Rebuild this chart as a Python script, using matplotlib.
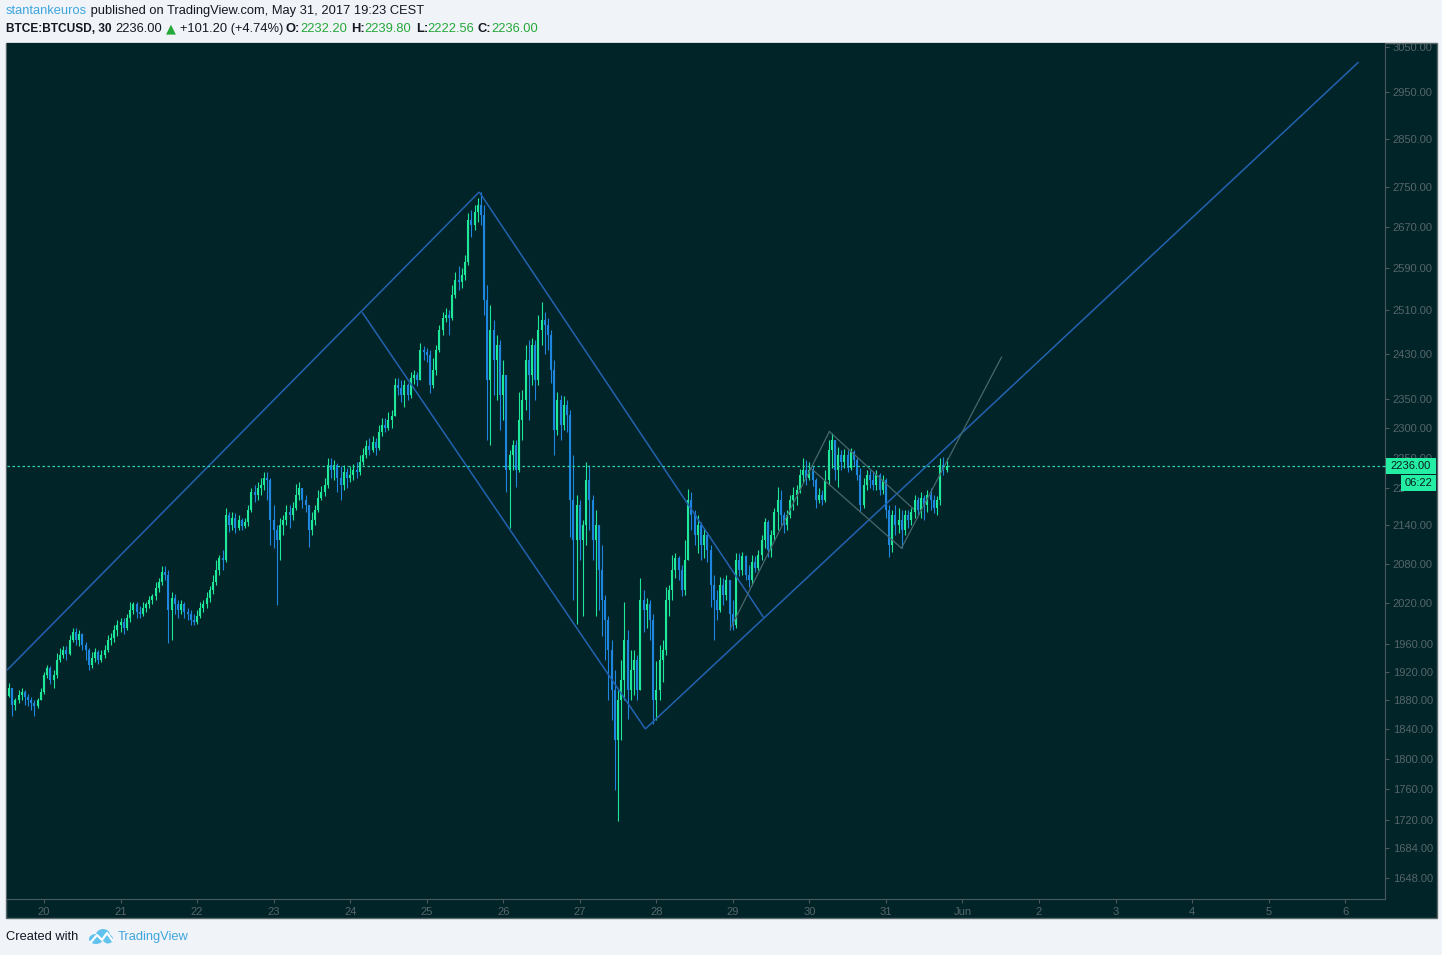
import numpy as np
import pandas as pd
import matplotlib
matplotlib.use("Agg")
import matplotlib.pyplot as plt
import matplotlib.dates as mdates
from matplotlib.patches import Rectangle, Ellipse
from matplotlib.lines import Line2D
from matplotlib.ticker import FixedLocator, FuncFormatter, NullLocator

# hourly BTCUSD bars (May 19 13:00 -> May 31 19:00)
first_open = 1885
close = [1897, 1873, 1880, 1887, 1891, 1884, 1880, 1876, 1872, 1880,
         1891, 1915, 1925, 1908, 1915, 1937, 1944, 1951, 1945, 1966,
         1977, 1966, 1974, 1958, 1951, 1930, 1940, 1948, 1937, 1943,
         1951, 1966, 1969, 1980, 1988, 1992, 1983, 1998, 2010, 2018,
         2007, 2003, 2013, 2018, 2025, 2031, 2043, 2052, 2067, 2063,
         2010, 2028, 2018, 2010, 2019, 2007, 2003, 1995, 1992, 2001,
         2013, 2018, 2028, 2040, 2052, 2070, 2089, 2086, 2156, 2141,
         2151, 2136, 2148, 2139, 2145, 2164, 2194, 2189, 2200, 2205,
         2216, 2213, 2148, 2133, 2117, 2141, 2148, 2161, 2156, 2167,
         2189, 2200, 2181, 2172, 2133, 2148, 2164, 2184, 2194, 2205,
         2238, 2230, 2238, 2216, 2205, 2226, 2216, 2221, 2230, 2226,
         2243, 2255, 2270, 2263, 2277, 2266, 2294, 2305, 2300, 2314,
         2321, 2374, 2369, 2357, 2374, 2357, 2387, 2392, 2383, 2437,
         2433, 2428, 2374, 2401, 2437, 2473, 2495, 2501, 2495, 2539,
         2567, 2563, 2576, 2601, 2684, 2674, 2700, 2714, 2694, 2529,
         2383, 2473, 2419, 2446, 2357, 2392, 2230, 2255, 2272, 2230,
         2314, 2348, 2419, 2392, 2446, 2383, 2473, 2492, 2483, 2464,
         2401, 2297, 2348, 2305, 2340, 2322, 2181, 2117, 2172, 2117,
         2141, 2213, 2181, 2117, 2141, 2070, 2025, 1995, 1951, 1894,
         1825, 1880, 1908, 1966, 1894, 1922, 1937, 1894, 2025, 2010,
         2018, 1995, 1880, 1894, 1937, 1951, 2025, 2040, 2070, 2089,
         2070, 2040, 2086, 2181, 2156, 2125, 2141, 2109, 2125, 2101,
         2048, 2025, 2010, 2048, 2032, 2055, 2003, 1988, 2086, 2070,
         2092, 2063, 2055, 2083, 2073, 2094, 2117, 2145, 2101, 2125,
         2161, 2181, 2156, 2141, 2156, 2181, 2189, 2197, 2221, 2230,
         2216, 2230, 2213, 2181, 2189, 2181, 2213, 2263, 2280, 2230,
         2255, 2243, 2255, 2233, 2260, 2246, 2221, 2172, 2205, 2221,
         2213, 2205, 2221, 2197, 2213, 2164, 2109, 2156, 2141, 2148,
         2133, 2156, 2148, 2161, 2181, 2164, 2184, 2172, 2189, 2181,
         2167, 2181, 2238, 2230, 2236]
high = [1904, 1897, 1883, 1894, 1897, 1894, 1888, 1884, 1880, 1883,
        1897, 1919, 1930, 1928, 1922, 1947, 1954, 1957, 1957, 1973,
        1983, 1983, 1980, 1976, 1963, 1954, 1948, 1954, 1951, 1951,
        1958, 1973, 1976, 1988, 1995, 1998, 1998, 2003, 2022, 2022,
        2021, 2016, 2021, 2022, 2031, 2034, 2052, 2058, 2076, 2076,
        2070, 2037, 2034, 2025, 2025, 2022, 2013, 2010, 2004, 2010,
        2021, 2025, 2037, 2046, 2063, 2086, 2094, 2101, 2167, 2161,
        2161, 2159, 2156, 2151, 2151, 2172, 2200, 2205, 2210, 2216,
        2226, 2226, 2216, 2172, 2141, 2151, 2156, 2172, 2172, 2177,
        2207, 2210, 2197, 2189, 2172, 2161, 2172, 2197, 2203, 2216,
        2249, 2249, 2246, 2241, 2236, 2238, 2233, 2236, 2240, 2243,
        2255, 2266, 2280, 2283, 2287, 2283, 2305, 2317, 2317, 2327,
        2331, 2387, 2387, 2383, 2383, 2378, 2397, 2401, 2397, 2450,
        2444, 2441, 2437, 2422, 2446, 2483, 2507, 2514, 2510, 2558,
        2582, 2594, 2590, 2615, 2698, 2704, 2714, 2728, 2740, 2714,
        2558, 2520, 2492, 2464, 2455, 2419, 2374, 2263, 2280, 2280,
        2362, 2366, 2446, 2455, 2459, 2455, 2501, 2525, 2507, 2495,
        2473, 2419, 2362, 2357, 2355, 2348, 2331, 2255, 2189, 2181,
        2148, 2243, 2238, 2189, 2164, 2141, 2109, 2032, 2001, 1966,
        1922, 1894, 1937, 2021, 1980, 1951, 1951, 1944, 2058, 2040,
        2027, 2025, 2003, 1935, 1958, 1966, 2044, 2048, 2094, 2097,
        2092, 2078, 2117, 2199, 2194, 2164, 2156, 2145, 2136, 2130,
        2109, 2063, 2040, 2060, 2058, 2063, 2055, 2025, 2097, 2097,
        2098, 2094, 2078, 2094, 2092, 2101, 2125, 2151, 2148, 2133,
        2167, 2202, 2197, 2161, 2164, 2189, 2202, 2205, 2231, 2249,
        2246, 2243, 2236, 2216, 2200, 2197, 2230, 2280, 2292, 2280,
        2268, 2263, 2265, 2263, 2266, 2263, 2249, 2233, 2216, 2230,
        2230, 2226, 2230, 2225, 2221, 2216, 2172, 2164, 2172, 2167,
        2164, 2164, 2164, 2167, 2189, 2186, 2194, 2189, 2197, 2200,
        2189, 2187, 2249, 2251, 2249]
low = [1884, 1858, 1866, 1876, 1880, 1873, 1872, 1866, 1858, 1869,
       1880, 1888, 1911, 1902, 1897, 1911, 1933, 1940, 1937, 1943,
       1963, 1958, 1957, 1951, 1937, 1922, 1925, 1934, 1931, 1934,
       1940, 1948, 1958, 1963, 1971, 1977, 1974, 1980, 1992, 2003,
       1998, 1998, 2001, 2007, 2013, 2019, 2025, 2037, 2048, 2055,
       1961, 1966, 2003, 1998, 2003, 1998, 1995, 1988, 1988, 1989,
       1998, 2007, 2013, 2022, 2034, 2048, 2063, 2070, 2083, 2130,
       2133, 2128, 2133, 2133, 2136, 2139, 2161, 2177, 2181, 2189,
       2197, 2181, 2109, 2104, 2017, 2086, 2125, 2141, 2136, 2148,
       2164, 2181, 2167, 2161, 2106, 2125, 2141, 2161, 2181, 2187,
       2200, 2216, 2213, 2194, 2181, 2197, 2200, 2210, 2213, 2216,
       2221, 2238, 2249, 2255, 2260, 2255, 2263, 2287, 2294, 2297,
       2300, 2322, 2357, 2345, 2336, 2348, 2352, 2376, 2373, 2383,
       2419, 2415, 2360, 2369, 2392, 2433, 2464, 2488, 2464, 2492,
       2533, 2548, 2552, 2567, 2596, 2650, 2664, 2680, 2674, 2501,
       2280, 2272, 2357, 2348, 2297, 2314, 2194, 2136, 2230, 2202,
       2226, 2280, 2331, 2314, 2374, 2348, 2374, 2446, 2430, 2437,
       2378, 2255, 2288, 2280, 2297, 2294, 2122, 2025, 1989, 2086,
       2001, 2109, 2133, 2086, 2001, 2010, 1972, 1937, 1880, 1852,
       1759, 1719, 1825, 1880, 1853, 1880, 1887, 1880, 1894, 1977,
       1983, 1966, 1847, 1852, 1880, 1905, 1944, 2001, 2025, 2058,
       2055, 2031, 2032, 2086, 2133, 2109, 2097, 2086, 2089, 2083,
       2014, 1966, 1995, 2007, 2017, 2025, 1980, 1980, 1983, 2061,
       2063, 2055, 2044, 2048, 2067, 2070, 2086, 2104, 2090, 2090,
       2117, 2133, 2141, 2128, 2133, 2151, 2164, 2172, 2192, 2210,
       2205, 2213, 2203, 2167, 2176, 2172, 2177, 2205, 2233, 2213,
       2202, 2230, 2233, 2226, 2230, 2236, 2213, 2161, 2167, 2197,
       2200, 2197, 2197, 2189, 2190, 2151, 2090, 2098, 2125, 2128,
       2104, 2125, 2136, 2141, 2151, 2156, 2151, 2148, 2161, 2164,
       2159, 2157, 2172, 2221, 2226]

last_price = 2236.00
countdown = "06:22"

# drawings (time, price)
blue_lines = [
    (("2017-05-19 12:23", 1922), ("2017-05-25 16:28", 2740)),
    (("2017-05-24 03:46", 2506), ("2017-05-27 20:33", 1840)),
    (("2017-05-25 16:28", 2740), ("2017-05-29 09:35", 1999)),
    (("2017-05-27 20:33", 1840), ("2017-06-06 04:13", 3017)),
]
grey_lines = [
    (("2017-05-28 23:12", 1982), ("2017-05-30 06:16", 2294)),
    (("2017-05-30 06:16", 2294), ("2017-05-31 08:37", 2166)),
    (("2017-05-30 00:19", 2233), ("2017-05-31 04:52", 2104)),
    (("2017-05-31 04:52", 2104), ("2017-06-01 12:14", 2424)),
]

yticks = [1648, 1684, 1720, 1760, 1800, 1840, 1880, 1920, 1960, 2020, 2080,
          2140, 2200, 2250, 2300, 2350, 2430, 2510, 2590, 2670, 2750, 2850,
          2950, 3050]
xdays = pd.date_range("2017-05-20", "2017-06-06", freq="D")

BG = "#012428"
UP = "#1fe89a"
DN = "#1f86e0"
BLUE = "#2262b0"
GREY = "#47676d"
AXT = "#56666a"
PAGE = "#f0f3f7"

W, H = 1442, 955
fig = plt.figure(figsize=(W / 100, H / 100), dpi=100, facecolor=PAGE)
fig.patches.append(Rectangle((6 / W, 1 - 918 / H), 1431 / W, 875 / H,
                             transform=fig.transFigure, facecolor=BG,
                             edgecolor="#5a676b", lw=1, zorder=-1))

ax = fig.add_axes([7 / W, 1 - 899 / H, 1378 / W, 856 / H])
ax.set_facecolor(BG)

times = pd.date_range("2017-05-19 13:00", periods=len(close), freq="h")
tx = mdates.date2num(times)
c = np.array(close, float)
o = np.concatenate([[first_open], c[:-1]])
h = np.maximum(np.array(high, float), np.maximum(o, c))
l = np.minimum(np.array(low, float), np.minimum(o, c))
col = np.where(c >= o, UP, DN)

ax.vlines(tx, l, h, colors=col, lw=0.8, zorder=3)
ax.vlines(tx, np.minimum(o, c), np.maximum(o, c), colors=col, lw=1.5, zorder=3)

for (t0, p0), (t1, p1) in blue_lines:
    ax.plot(mdates.date2num(pd.to_datetime([t0, t1])), [p0, p1],
            color=BLUE, lw=1.1, zorder=4, solid_capstyle="butt")
for (t0, p0), (t1, p1) in grey_lines:
    ax.plot(mdates.date2num(pd.to_datetime([t0, t1])), [p0, p1],
            color=GREY, lw=0.9, zorder=4)

ax.axhline(last_price, color="#2fd6aa", lw=0.9, ls=(0, (2, 2)), zorder=5)

ax.set_yscale("log")
ax.set_ylim(1622, 3060)
ax.set_xlim(mdates.date2num(pd.Timestamp("2017-05-19 12:23")),
            mdates.date2num(pd.Timestamp("2017-06-06 12:30")))
ax.yaxis.tick_right()
ax.yaxis.set_major_locator(FixedLocator(yticks))
ax.yaxis.set_minor_locator(NullLocator())
# the 2200 label sits under the countdown box, only "22" peeks out
ax.yaxis.set_major_formatter(FuncFormatter(
    lambda v, p: "22" if abs(v - 2200) < 1 else f"{v:.2f}"))
ax.set_xticks(mdates.date2num(xdays))
ax.set_xticklabels(["Jun" if d.day == 1 else str(d.day) for d in xdays])
ax.xaxis.set_minor_locator(NullLocator())
ax.tick_params(axis="y", colors="#4a5a5e", labelcolor=AXT, labelsize=8,
               length=3, width=0.8, pad=2.5)
ax.tick_params(axis="x", colors="#4a5a5e", labelcolor=AXT, labelsize=8,
               length=3, width=0.8, pad=2.5)
for lab in ax.get_xticklabels() + ax.get_yticklabels():
    lab.set_family("Liberation Sans")
for s in ["top", "left"]:
    ax.spines[s].set_visible(False)
for s in ["right", "bottom"]:
    ax.spines[s].set_color("#4a5a5e")
    ax.spines[s].set_linewidth(0.8)

# last price and countdown boxes on the price scale
fig.lines.append(Line2D([1385 / W, 1387 / W], [1 - 466 / H] * 2,
                        transform=fig.transFigure, color="#2fd6aa", lw=0.9))
fig.patches.append(Rectangle((1386 / W, 1 - 474 / H), 50 / W, 16 / H,
                             transform=fig.transFigure, facecolor="#24eea4",
                             edgecolor="none", zorder=5))
fig.patches.append(Rectangle((1401 / W, 1 - 491 / H), 35 / W, 16 / H,
                             transform=fig.transFigure, facecolor="#24eea4",
                             edgecolor="none", zorder=5))
fig.text(1411 / W, 1 - 466 / H, f"{last_price:.2f}", ha="center", va="center",
         fontsize=8, color="#0b1d1d", family="Liberation Sans", zorder=6)
fig.text(1419 / W, 1 - 483 / H, countdown, ha="center", va="center",
         fontsize=8, color="#0b1d1d", family="Liberation Sans", zorder=6)

# header
renderer = fig.canvas.get_renderer()


def put(x, y, s, family="Liberation Sans", size=9.25, **kw):
    t = fig.text(x / W, 1 - y / H, s, ha="left", va="center",
                 family=family, fontsize=size, **kw)
    return x + t.get_window_extent(renderer).width


DARK = "#131722"
GREEN = "#25a83a"
x = put(6, 11, "stantankeuros", color="#3ea6df")
put(x, 11, " published on TradingView.com, May 31, 2017 19:23 CEST", color=DARK)

put(6, 29, "BTCE:BTCUSD, 30", color=DARK, weight="bold", size=8.6)
put(115, 29, "2236.00", color=DARK)
put(166, 29, "\u25b2", color=GREEN, family="DejaVu Sans")
put(180, 29, "+101.20 (+4.74%)", color=DARK)
for kx, k, vx, v in [(285, "O:", 300, "2232.20"), (351, "H:", 364, "2239.80"),
                     (416, "L:", 427, "2222.56"), (478, "C:", 491, "2236.00")]:
    put(kx, 29, k, color=DARK, weight="bold")
    put(vx, 29, v, color=GREEN)

# footer
put(6, 937, "Created with", color=DARK)
for cx, cy, ew, eh in [(96, 939, 14, 10), (103, 935, 14, 12), (108, 939, 10, 9)]:
    fig.patches.append(Ellipse((cx / W, 1 - cy / H), ew / W, eh / H,
                               transform=fig.transFigure, facecolor="#62c2ee",
                               edgecolor="none"))
fig.lines.append(Line2D(np.array([91, 97, 102, 107, 112]) / W,
                        1 - np.array([942, 935, 940, 933, 940]) / H,
                        transform=fig.transFigure, color="white", lw=1.6))
put(118, 937, "TradingView", color="#3ea6df")

fig.savefig("out.png", dpi=100, facecolor=PAGE)
